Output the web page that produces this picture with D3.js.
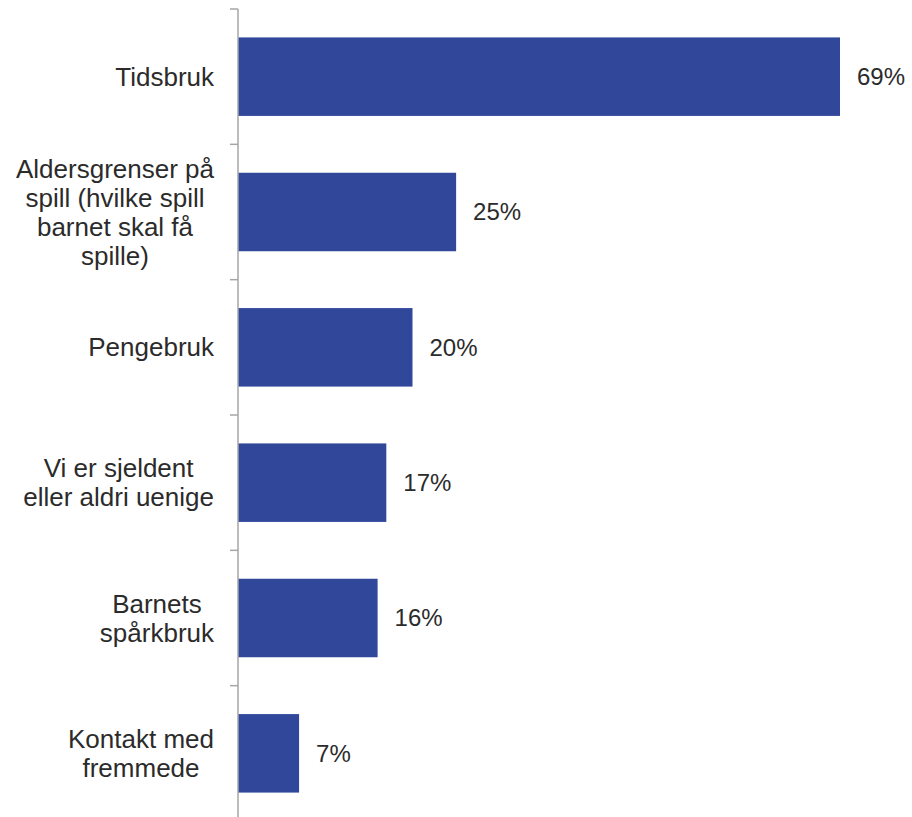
<!DOCTYPE html>
<html>
<head>
<meta charset="utf-8">
<script src="https://cdn.jsdelivr.net/npm/d3@7"></script>
<style>
  body { margin: 0; background: #fff; }
  text { font-family: "Liberation Sans", Arial, sans-serif; fill: #2b2b2b; }
</style>
</head>
<body>
<div class="chart"></div>
<script>
// chart data
var categories = [
  ["Tidsbruk"],
  ["Aldersgrenser på", "spill (hvilke spill", "barnet skal få", "spille)"],
  ["Pengebruk"],
  ["Vi er sjeldent", "eller aldri uenige"],
  ["Barnets", "spårkbruk"],
  ["Kontakt med", "fremmede"]
];
var values = [69, 25, 20, 17, 16, 7];
var valueLabels = ["69%", "25%", "20%", "17%", "16%", "7%"];

var svgWidth = 912;
var svgHeight = 817;

// the category axis runs a little past the bottom of the picture
var margin = { top: 9, right: 72, left: 238 };
var width = svgWidth - margin.left - margin.right;
var height = 812;

var svg = d3.select(".chart")
  .append("svg")
  .attr("width", svgWidth)
  .attr("height", svgHeight);

var chartGroup = svg.append("g")
  .attr("transform", `translate(${margin.left}, ${margin.top})`);

var idx = d3.range(values.length);

// y band scale, x linear scale
var yScale = d3.scaleBand()
  .domain(idx)
  .range([0, height])
  .paddingInner(0.42)
  .paddingOuter(0.21);

var xScale = d3.scaleLinear()
  .domain([0, d3.max(values)])
  .range([0, 602]);

// bars
chartGroup.selectAll(".bar")
  .data(idx)
  .enter()
  .append("rect")
  .attr("class", "bar")
  .attr("x", 0)
  .attr("y", i => yScale(i))
  .attr("width", i => xScale(values[i]))
  .attr("height", yScale.bandwidth())
  .attr("fill", "#30479A");

// value labels
chartGroup.selectAll(".val")
  .data(idx)
  .enter()
  .append("text")
  .attr("class", "val")
  .attr("x", i => xScale(values[i]) + 17)
  .attr("y", i => yScale(i) + yScale.bandwidth() / 2)
  .attr("dy", "0.35em")
  .style("font-size", "24px")
  .text(i => valueLabels[i]);

// axis line with ticks at band boundaries
var off = yScale.step() * yScale.paddingInner() / 2;
var axisG = chartGroup.append("g");
axisG.append("line")
  .attr("x1", 0).attr("x2", 0)
  .attr("y1", 0).attr("y2", height)
  .attr("stroke", "#A6A6A6")
  .attr("stroke-width", 1.5);
axisG.selectAll(".tick")
  .data(d3.range(values.length + 1))
  .enter()
  .append("line")
  .attr("x1", -8).attr("x2", 0)
  .attr("y1", i => i < values.length ? yScale(i) - off : yScale(i - 1) + yScale.bandwidth() + off)
  .attr("y2", i => i < values.length ? yScale(i) - off : yScale(i - 1) + yScale.bandwidth() + off)
  .attr("stroke", "#A6A6A6")
  .attr("stroke-width", 1.5);

// category labels: lines centred within a block, block right-aligned
var lineH = 29;
categories.forEach(function(lines, i) {
  var g = chartGroup.append("g");
  var texts = lines.map(function(l, j) {
    return g.append("text")
      .attr("y", yScale(i) + yScale.bandwidth() / 2 + (j - (lines.length - 1) / 2) * lineH)
      .attr("dy", "0.35em")
      .attr("text-anchor", "middle")
      .style("font-size", "26px")
      .text(l);
  });
  var maxW = d3.max(texts, t => t.node().getComputedTextLength());
  texts.forEach(t => t.attr("x", -24 - maxW / 2));
});
</script>
</body>
</html>
